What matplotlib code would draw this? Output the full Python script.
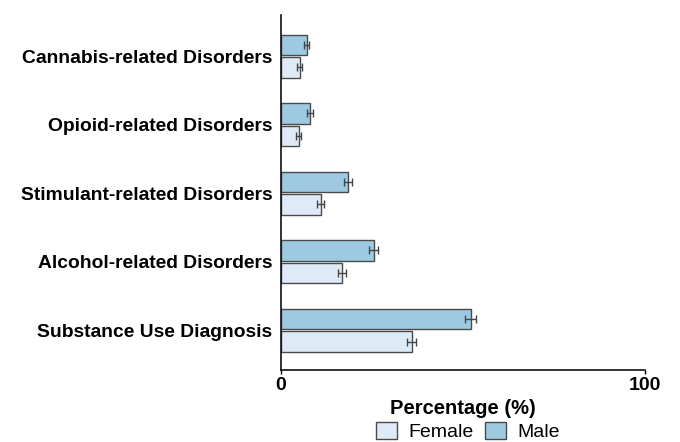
import numpy as np
import matplotlib
matplotlib.use('Agg')
import matplotlib.pyplot as plt
from matplotlib.patches import Patch

plt.rcParams['font.family'] = ['Liberation Sans', 'DejaVu Sans']

categories = ['Substance Use Diagnosis', 'Alcohol-related Disorders',
              'Stimulant-related Disorders', 'Opioid-related Disorders',
              'Cannabis-related Disorders']
female = [35.9, 16.8, 10.9, 4.9, 5.2]
male = [52.2, 25.5, 18.4, 7.9, 7.1]
female_err = [1.3, 1.1, 1.0, 0.7, 0.7]
male_err = [1.5, 1.2, 1.1, 0.8, 0.7]

female_color = '#deebf7'
male_color = '#9ecae1'
edge = '#4a4a4a'

fig = plt.figure(figsize=(6.8, 4.42), dpi=100)
ax = fig.add_axes([0.413, 0.163, 0.5355, 0.803])

y = np.arange(len(categories))
h = 0.3
gap = 0.015
ax.barh(y + h / 2 + gap, male, height=h, color=male_color, edgecolor=edge,
        linewidth=1.0, xerr=male_err,
        error_kw=dict(ecolor='#444444', elinewidth=1.0, capsize=3, capthick=1.0))
ax.barh(y - h / 2 - gap, female, height=h, color=female_color, edgecolor=edge,
        linewidth=1.0, xerr=female_err,
        error_kw=dict(ecolor='#444444', elinewidth=1.0, capsize=3, capthick=1.0))

ax.set_xlim(0, 100)
ax.set_ylim(-0.58, 4.6)
ax.set_yticks(y)
ax.set_yticklabels(categories, fontsize=13.9, fontweight='bold')
ax.tick_params(axis='y', length=0, pad=6)
ax.set_xticks([0, 100])
ax.set_xticklabels(['0', '100'], fontsize=14, fontweight='bold')
ax.tick_params(axis='x', length=3, width=1, pad=2)
ax.set_xlabel('Percentage (%)', fontsize=14.5, fontweight='bold', labelpad=3.5)

for s in ['top', 'right']:
    ax.spines[s].set_visible(False)
for s in ['left', 'bottom']:
    ax.spines[s].set_linewidth(1.2)
    ax.spines[s].set_color('#111111')

handles = [Patch(facecolor=female_color, edgecolor=edge, label='Female'),
           Patch(facecolor=male_color, edgecolor=edge, label='Male')]
fig.legend(handles=handles, loc='lower center', bbox_to_anchor=(0.688, -0.038),
           ncol=2, frameon=False, fontsize=14, handlelength=1.1,
           handleheight=1.0, columnspacing=0.57, handletextpad=0.57)

fig.savefig('out.png', dpi=100)
